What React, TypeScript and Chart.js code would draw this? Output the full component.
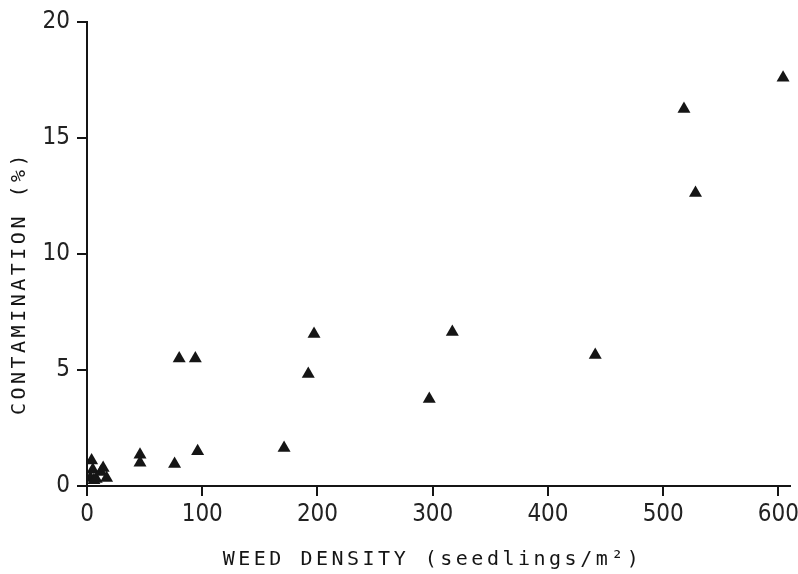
import React, { useEffect, useRef } from "react";
import { Chart, registerables } from "chart.js";

Chart.register(...registerables);

const weedDensity = [3, 4, 5, 6, 8, 12, 14, 17, 46, 46, 76, 80, 94, 96, 171, 192, 197, 297, 317, 441, 518, 528, 604];
const contamination = [0.35, 1.1, 0.7, 0.25, 0.3, 0.6, 0.78, 0.35, 1.35, 1.0, 0.95, 5.5, 5.5, 1.5, 1.64, 4.83, 6.55, 3.75, 6.64, 5.65, 16.25, 12.63, 17.6];
const xTicks = [0, 100, 200, 300, 400, 500, 600];
const yTicks = [0, 5, 10, 15, 20];
const xTitle = "WEED DENSITY (seedlings/m²)";
const yTitle = "CONTAMINATION (%)";

const INK = "#151515";
const TICK_FONT = '"Liberation Sans Narrow", "DejaVu Sans Condensed", "Arial Narrow", sans-serif';
const TITLE_FONT = '"DejaVu Sans Mono", monospace';

const titlePlugin = {
  id: "axisTitles",
  afterDraw(chart: any) {
    const { ctx, chartArea } = chart;
    ctx.save();
    ctx.fillStyle = INK;
    ctx.font = `20px ${TITLE_FONT}`;
    try { (ctx as any).letterSpacing = "3.5px"; } catch (e) {}
    ctx.textAlign = "center";
    ctx.textBaseline = "alphabetic";
    ctx.fillText(xTitle, (chartArea.left + chartArea.right) / 2 - 6, chartArea.bottom + 79);
    ctx.translate(20, (chartArea.top + chartArea.bottom) / 2 + 29);
    ctx.rotate(-Math.PI / 2);
    ctx.textBaseline = "middle";
    ctx.fillText(yTitle, 0, 0);
    ctx.restore();
  },
};

export default function App() {
  const ref = useRef<HTMLCanvasElement | null>(null);
  useEffect(() => {
    if (!ref.current) return;
    const chart = new Chart(ref.current, {
      type: "scatter",
      data: {
        datasets: [
          {
            data: weedDensity.map((x, i) => ({ x, y: contamination[i] })),
            pointStyle: "triangle",
            pointRadius: 7.5,
            backgroundColor: INK,
            borderColor: INK,
            borderWidth: 0,
          },
        ],
      },
      options: {
        animation: false,
        responsive: true,
        maintainAspectRatio: false,
        layout: { padding: { top: 22, right: 8, left: 0, bottom: 0 } },
        plugins: { legend: { display: false }, tooltip: { enabled: false } },
        scales: {
          x: {
            type: "linear",
            min: 0,
            max: 610,
            afterFit(scale: any) { scale.height = 88; scale.paddingRight = 0; scale.paddingLeft = 0; },
            afterBuildTicks(scale: any) { scale.ticks = xTicks.map((v) => ({ value: v })); },
            border: { display: true, color: INK, width: 2 },
            grid: { drawOnChartArea: false, drawTicks: true, tickLength: 10, color: INK, lineWidth: 2 },
            ticks: { color: "#222", padding: 4, font: { family: TICK_FONT, size: 24 }, maxRotation: 0 },
          },
          y: {
            type: "linear",
            min: 0,
            max: 20,
            afterFit(scale: any) { scale.width = 87; scale.paddingTop = 0; scale.paddingBottom = 0; },
            afterBuildTicks(scale: any) { scale.ticks = yTicks.map((v) => ({ value: v })); },
            border: { display: true, color: INK, width: 2 },
            grid: { drawOnChartArea: false, drawTicks: true, tickLength: 10, color: INK, lineWidth: 2 },
            ticks: { color: "#222", padding: 7, font: { family: TICK_FONT, size: 24 } },
          },
        },
      },
      plugins: [titlePlugin],
    });
    return () => chart.destroy();
  }, []);
  return (
    <div style={{ position: "fixed", left: 0, top: 0, width: 798, height: 574, background: "#fff" }}>
      <canvas ref={ref} />
    </div>
  );
}
